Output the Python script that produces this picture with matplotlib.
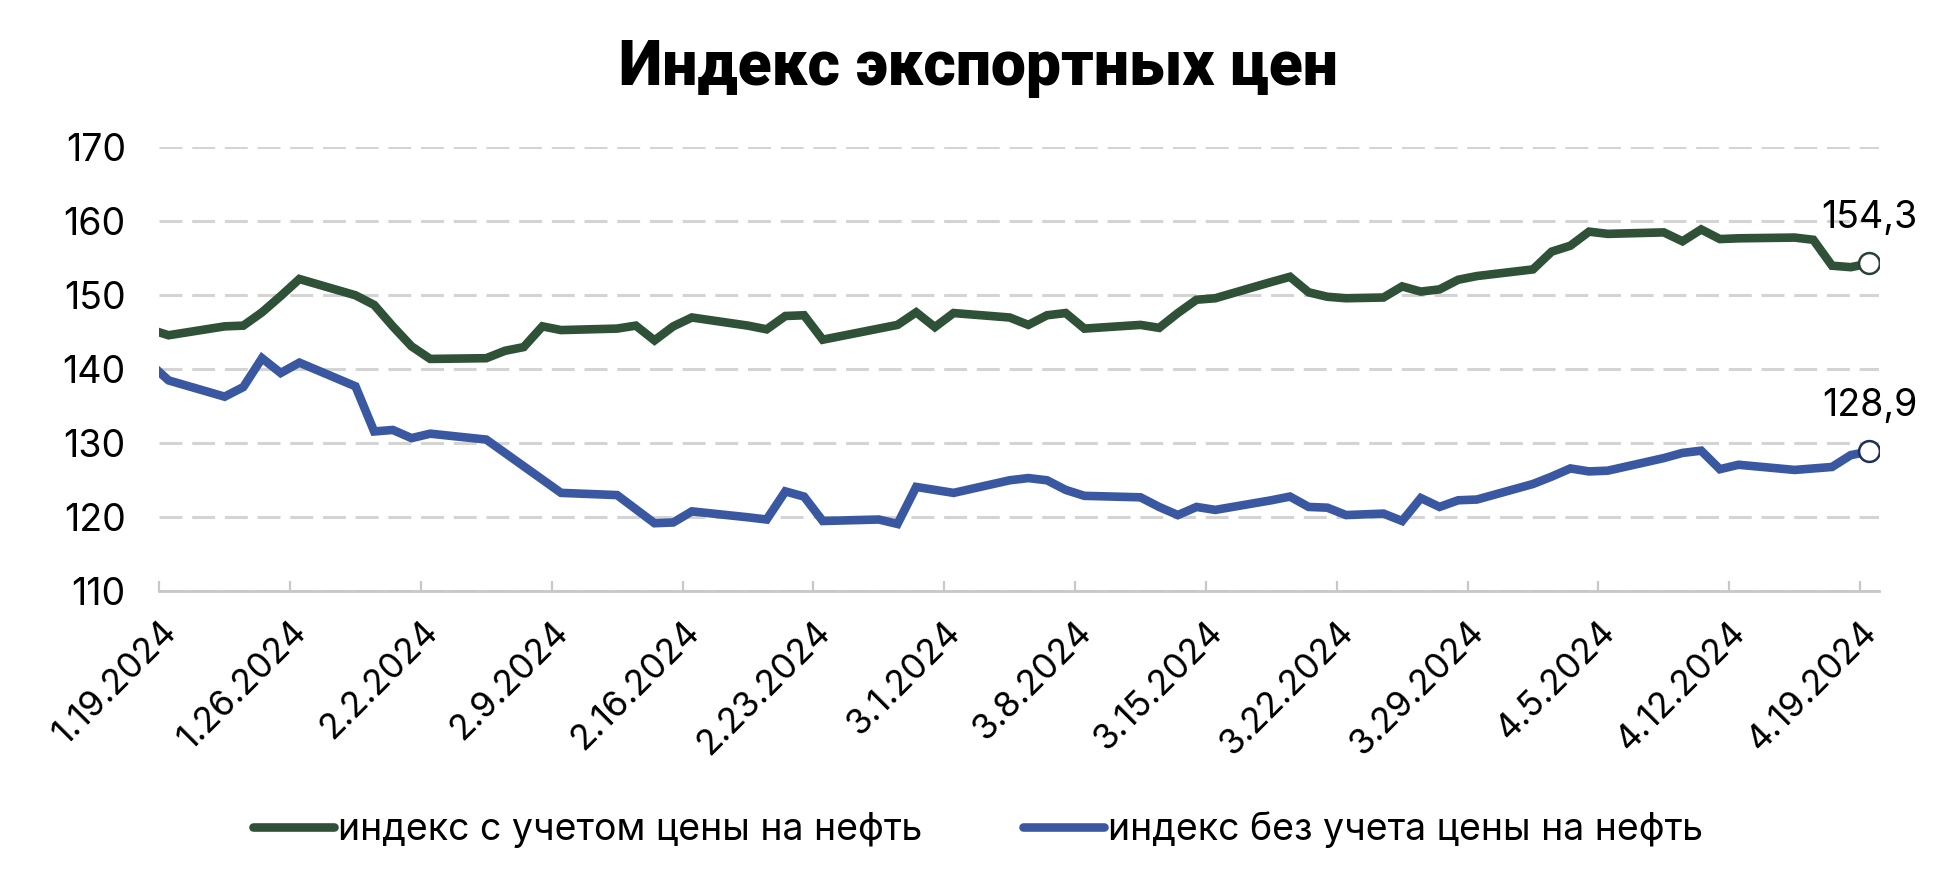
import pandas as pd
import matplotlib
matplotlib.use('Agg')
import matplotlib.pyplot as plt
import matplotlib.dates as mdates

plt.rcParams['font.family'] = ['Inter', 'DejaVu Sans']

# Daily export price index
dates = ['2024-01-18', '2024-01-19',
         '2024-01-22', '2024-01-23', '2024-01-24', '2024-01-25', '2024-01-26',
         '2024-01-29', '2024-01-30', '2024-01-31', '2024-02-01', '2024-02-02',
         '2024-02-05', '2024-02-06', '2024-02-07', '2024-02-08', '2024-02-09',
         '2024-02-12', '2024-02-13', '2024-02-14', '2024-02-15', '2024-02-16',
         '2024-02-19', '2024-02-20', '2024-02-21', '2024-02-22', '2024-02-23',
         '2024-02-26', '2024-02-27', '2024-02-28', '2024-02-29', '2024-03-01',
         '2024-03-04', '2024-03-05', '2024-03-06', '2024-03-07', '2024-03-08',
         '2024-03-11', '2024-03-12', '2024-03-13', '2024-03-14', '2024-03-15',
         '2024-03-18', '2024-03-19', '2024-03-20', '2024-03-21', '2024-03-22',
         '2024-03-24', '2024-03-25', '2024-03-26', '2024-03-27', '2024-03-28', '2024-03-29',
         '2024-04-01', '2024-04-02', '2024-04-03', '2024-04-04', '2024-04-05',
         '2024-04-08', '2024-04-09', '2024-04-10', '2024-04-11', '2024-04-12',
         '2024-04-15', '2024-04-16', '2024-04-17', '2024-04-18', '2024-04-19']

with_oil = [145.4, 144.6,
            145.8, 145.9, 147.7, 149.9, 152.2,
            150.0, 148.7, 145.8, 143.1, 141.4,
            141.5, 142.5, 143.0, 145.8, 145.3,
            145.5, 145.9, 143.9, 145.8, 147.0,
            145.9, 145.4, 147.2, 147.3, 144.0,
            145.5, 146.0, 147.7, 145.7, 147.6,
            147.0, 146.0, 147.3, 147.6, 145.5,
            146.0, 145.6, 147.6, 149.4, 149.6,
            151.8, 152.5, 150.4, 149.8, 149.6,
            149.7, 151.2, 150.5, 150.8, 152.1, 152.6,
            153.5, 155.9, 156.7, 158.6, 158.3,
            158.5, 157.3, 158.9, 157.6, 157.7,
            157.8, 157.5, 154.0, 153.8, 154.3]

without_oil = [140.8, 138.5,
               136.3, 137.6, 141.5, 139.5, 140.9,
               137.7, 131.6, 131.8, 130.7, 131.3,
               130.5, 128.7, 126.9, 125.1, 123.3,
               123.0, 121.1, 119.2, 119.3, 120.8,
               120.0, 119.7, 123.5, 122.8, 119.5,
               119.7, 119.1, 124.1, 123.7, 123.3,
               125.0, 125.3, 125.0, 123.7, 122.9,
               122.7, 121.4, 120.3, 121.4, 121.0,
               122.3, 122.8, 121.4, 121.3, 120.3,
               120.5, 119.5, 122.6, 121.4, 122.3, 122.4,
               124.5, 125.5, 126.6, 126.2, 126.3,
               128.0, 128.7, 129.0, 126.5, 127.1,
               126.4, 126.6, 126.8, 128.4, 128.9]

tick_dates = ['2024-01-19', '2024-01-26', '2024-02-02', '2024-02-09', '2024-02-16',
              '2024-02-23', '2024-03-01', '2024-03-08', '2024-03-15', '2024-03-22',
              '2024-03-29', '2024-04-05', '2024-04-12', '2024-04-19']
tick_labels = ['1.19.2024', '1.26.2024', '2.2.2024', '2.9.2024', '2.16.2024',
               '2.23.2024', '3.1.2024', '3.8.2024', '3.15.2024', '3.22.2024',
               '3.29.2024', '4.5.2024', '4.12.2024', '4.19.2024']

labels = ['индекс с учетом цены на нефть', 'индекс без учета цены на нефть']
colors = ['#2e5137', '#3a58a2']
edge_colors = ['#2a4232', '#1f2f5c']
end_labels = ['154,3', '128,9']

# points sit in the middle of each day, like an Excel date axis
x = mdates.date2num(pd.to_datetime(dates)) + 0.5

fig = plt.figure(figsize=(19.56, 8.82), dpi=100)
ax = fig.add_axes([0.0814, 0.3296, 0.8791, 0.5034])

for vals, col, ec, lab, txt in zip([with_oil, without_oil], colors, edge_colors, labels, end_labels):
    ax.plot(x, vals, color=col, lw=6.2, solid_capstyle='round', solid_joinstyle='miter', label=lab)
    ax.plot(x[-1], vals[-1], 'o', ms=15, mfc='white', mec=ec, mew=1.8, zorder=5)
    ax.annotate(txt, (x[-1], vals[-1]), xytext=(0, 35), textcoords='offset pixels',
                ha='center', va='baseline', fontsize=27, color='black')

ax.set_xlim(mdates.date2num(pd.Timestamp('2024-01-19')), mdates.date2num(pd.Timestamp('2024-04-20')))
ax.set_ylim(110, 170)
ax.set_yticks(range(110, 171, 10))

ax.set_xticks(mdates.date2num(pd.to_datetime(tick_dates)))
ax.set_xticklabels(tick_labels, rotation=45, ha='right', va='top', rotation_mode='anchor')

ax.grid(axis='y', color='#d4d4d4', lw=2.2, linestyle=(0, (7.5, 3.2)))
ax.set_axisbelow(True)
for s in ['top', 'right', 'left']:
    ax.spines[s].set_visible(False)
ax.spines['bottom'].set_color('#c8c8c8')
ax.spines['bottom'].set_linewidth(2)

ax.tick_params(axis='y', length=0, pad=24, labelsize=27)
ax.tick_params(axis='x', direction='in', length=7, width=1.6, color='#c8c8c8', pad=17, labelsize=25.5)

fig.text(0.5, 1 - 68 / 882, 'Индекс экспортных цен', ha='center', va='center',
         fontsize=45, fontweight='black', family=['Roboto', 'DejaVu Sans'])

fig.legend(loc='center', bbox_to_anchor=(0.5, 1 - 830 / 882), ncol=2, frameon=False,
           fontsize=27, handlelength=2.15, handletextpad=0.1, columnspacing=2.7)

fig.savefig('out.png', dpi=100)
